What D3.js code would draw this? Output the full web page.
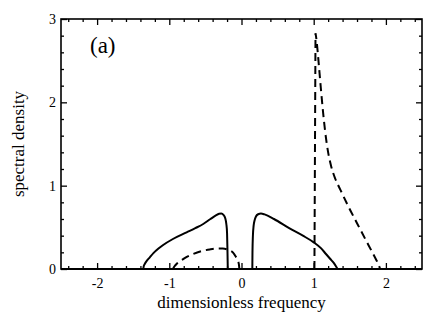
<!DOCTYPE html>
<html><head><meta charset="utf-8">
<script src="https://cdn.jsdelivr.net/npm/d3@7"></script>
<style>body{margin:0;background:#fff}svg{display:block}</style>
</head><body>
<script>
const xTicks = [-2, -1, 0, 1, 2];
const yTicks = [0, 1, 2, 3];
const solidLeft = [[-1.36,0],[-1.355,0.03],[-1.34,0.06],[-1.31,0.1],[-1.27,0.14],[-1.22,0.19],[-1.15,0.245],[-1.09,0.285],[-0.95,0.36],[-0.76,0.44],[-0.64,0.49],[-0.53,0.54],[-0.43,0.6],[-0.36,0.64],[-0.31,0.662],[-0.28,0.665],[-0.25,0.65],[-0.225,0.61],[-0.21,0.54],[-0.20,0.43],[-0.195,0.25],[-0.19,0]];
const solidRight = [[0.15,0],[0.152,0.2],[0.158,0.4],[0.168,0.52],[0.18,0.58],[0.20,0.63],[0.23,0.657],[0.27,0.665],[0.32,0.655],[0.45,0.6],[0.66,0.49],[0.85,0.4],[1.0,0.32],[1.1,0.25],[1.17,0.18],[1.23,0.12],[1.28,0.07],[1.31,0.03],[1.33,0]];
const dashedLeft = [[-0.95,0],[-0.93,0.03],[-0.89,0.07],[-0.84,0.1],[-0.77,0.14],[-0.67,0.18],[-0.55,0.215],[-0.44,0.235],[-0.34,0.245],[-0.26,0.245],[-0.18,0.23],[-0.12,0.2],[-0.08,0.15],[-0.05,0.1],[-0.035,0.05],[-0.03,0]];
const dashedSpike = [[1.01,0],[1.025,2.83]];
const dashedRight = [[1.025,2.83],[1.04,2.74],[1.06,2.56],[1.08,2.36],[1.10,2.16],[1.13,1.88],[1.16,1.64],[1.20,1.40],[1.24,1.24],[1.30,1.08],[1.37,0.95],[1.48,0.75],[1.60,0.55],[1.72,0.35],[1.80,0.22],[1.86,0.12],[1.90,0.05],[1.92,0]];

const W = 436, H = 324;
const m = {l:61, r:14, t:19, b:55};
const FONT = '"Liberation Serif", serif';
const svg = d3.select("body").append("svg").attr("width", W).attr("height", H).attr("font-family", FONT);
const x = d3.scaleLinear().domain([-2.5, 2.5]).range([m.l, W - m.r]);
const y = d3.scaleLinear().domain([0, 3]).range([H - m.b, m.t]);

svg.append("clipPath").attr("id","c").append("rect")
  .attr("x", x(-2.5)).attr("y", y(3)).attr("width", x(2.5)-x(-2.5)).attr("height", y(0)-y(3));

const xMinor = d3.range(-2.4, 2.5, 0.2).map(v => +v.toFixed(2)).filter(v => Math.abs(v - Math.round(v)) > 1e-6);
const yMinor = d3.range(0.2, 3, 0.2).map(v => +v.toFixed(2)).filter(v => Math.abs(v - Math.round(v)) > 1e-6);

function ax(gen, scale, ticks, size, tr, labels) {
  const g = svg.append("g").attr("transform", tr)
    .call(gen(scale).tickValues(ticks).tickSize(size).tickFormat(labels ? (d => d) : ""));
  g.select(".domain").remove();
  g.selectAll(".tick line").attr("stroke", "#000").attr("stroke-width", 1.3);
  g.attr("font-family", FONT).attr("font-size", 14);
  return g;
}
const gb = ax(d3.axisBottom, x, xTicks, -6, `translate(0,${y(0)})`, true);
gb.selectAll("text").attr("y", 9).attr("dy", "0.71em").attr("font-family", FONT).attr("font-size", 14).attr("fill", "#000")
  .text(d => d < 0 ? "-" + Math.abs(d) : d);
ax(d3.axisBottom, x, xMinor, -3, `translate(0,${y(0)})`, false);
ax(d3.axisTop, x, xTicks, -6, `translate(0,${y(3)})`, false);
ax(d3.axisTop, x, xMinor, -3, `translate(0,${y(3)})`, false);
const gl = ax(d3.axisLeft, y, yTicks, -6, `translate(${x(-2.5)},0)`, true);
gl.selectAll("text").attr("x", -5).attr("font-family", FONT).attr("font-size", 14).attr("fill", "#000");
ax(d3.axisLeft, y, yMinor, -3, `translate(${x(-2.5)},0)`, false);
ax(d3.axisRight, y, yTicks, -6, `translate(${x(2.5)},0)`, false);
ax(d3.axisRight, y, yMinor, -3, `translate(${x(2.5)},0)`, false);

svg.append("rect").attr("x", x(-2.5)).attr("y", y(3)).attr("width", x(2.5)-x(-2.5)).attr("height", y(0)-y(3))
  .attr("fill", "none").attr("stroke", "#000").attr("stroke-width", 1.6);
svg.append("line").attr("x1", x(-2.5)).attr("x2", x(2.5)).attr("y1", y(0)).attr("y2", y(0))
  .attr("stroke", "#000").attr("stroke-width", 2.2);

const smooth = d3.line().x(d => x(d[0])).y(d => y(d[1])).curve(d3.curveMonotoneX);
const straight = d3.line().x(d => x(d[0])).y(d => y(d[1]));
const gc = svg.append("g").attr("clip-path", "url(#c)");
[solidLeft, solidRight].forEach(s => gc.append("path").attr("d", smooth(s)).attr("fill","none").attr("stroke","#000").attr("stroke-width",2).attr("stroke-linejoin","round"));
gc.append("path").attr("d", smooth(dashedLeft)).attr("fill","none").attr("stroke","#000").attr("stroke-width",2).attr("stroke-dasharray","8,5");
gc.append("path").attr("d", straight(dashedSpike) + smooth(dashedRight).replace(/^M/, "L")).attr("fill","none").attr("stroke","#000").attr("stroke-width",2).attr("stroke-dasharray","8,5");

svg.append("text").attr("x", (x(-2.5)+x(2.5))/2).attr("y", 308).attr("text-anchor","middle")
  .attr("font-family", FONT).attr("font-size", 17).text("dimensionless frequency");
svg.append("text").attr("transform", `translate(24,${(y(0)+y(3))/2}) rotate(-90)`).attr("text-anchor","middle")
  .attr("font-family", FONT).attr("font-size", 17).text("spectral density");
svg.append("text").attr("x", 90).attr("y", 53).attr("font-family", FONT).attr("font-size", 23).text("(a)");
</script>
</body></html>
